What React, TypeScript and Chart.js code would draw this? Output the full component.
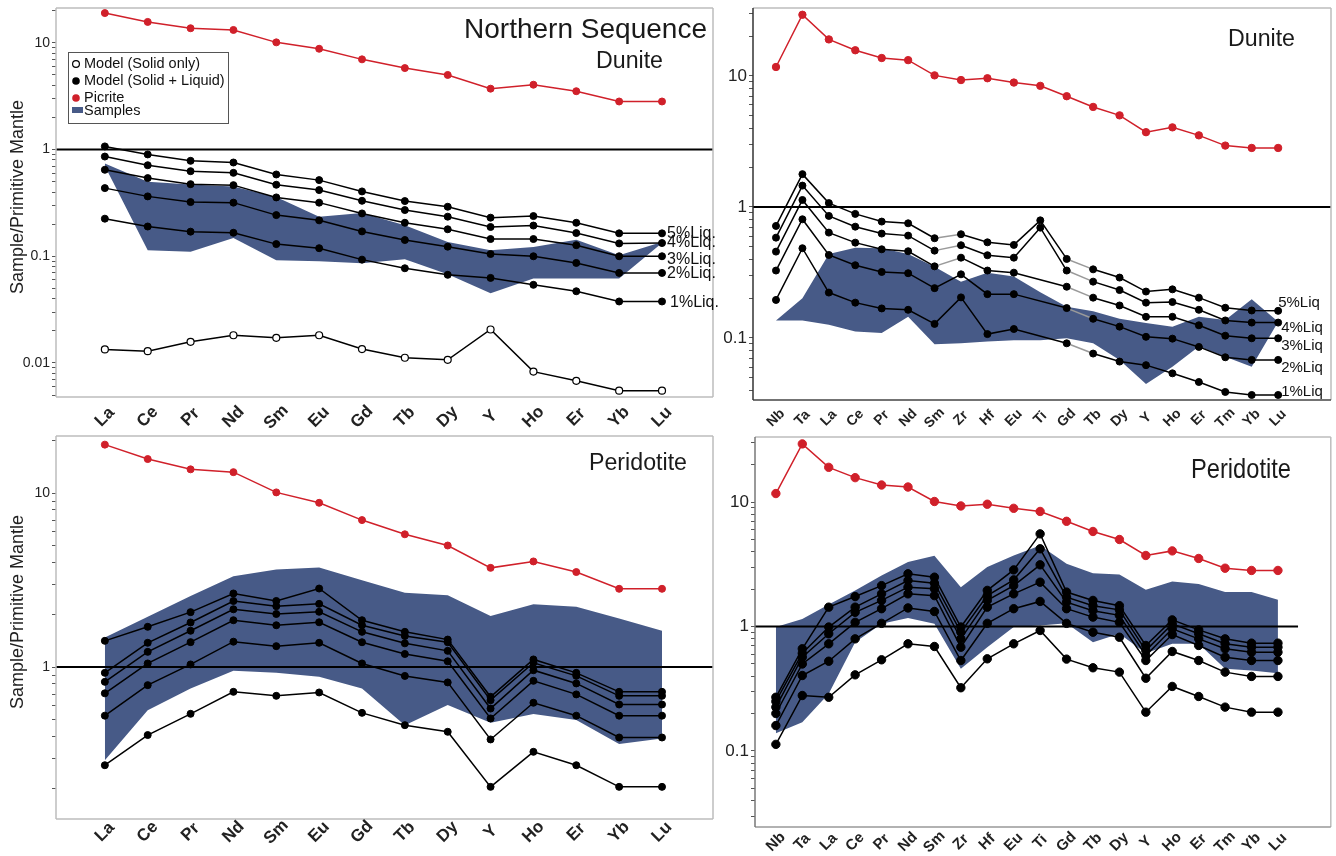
import React, { useEffect, useRef } from 'react';
import { Chart, registerables } from 'chart.js';

Chart.register(...registerables);

// ---------- categories ----------
const REE_CATS = ['La', 'Ce', 'Pr', 'Nd', 'Sm', 'Eu', 'Gd', 'Tb', 'Dy', 'Y', 'Ho', 'Er', 'Yb', 'Lu'];
const EXT_CATS = ['Nb', 'Ta', 'La', 'Ce', 'Pr', 'Nd', 'Sm', 'Zr', 'Hf', 'Eu', 'Ti', 'Gd', 'Tb', 'Dy', 'Y', 'Ho', 'Er', 'Tm', 'Yb', 'Lu'];

// ---------- picrite ----------
const picriteREE = [19.0, 15.7, 13.7, 13.2, 10.1, 8.8, 7.0, 5.8, 5.0, 3.72, 4.05, 3.52, 2.82, 2.82];
const picriteEXT = [11.7, 29.3, 19.0, 15.7, 13.7, 13.2, 10.1, 9.3, 9.6, 8.9, 8.4, 7.0, 5.8, 5.0, 3.72, 4.05, 3.52, 2.94, 2.82, 2.82];

// ---------- Panel 1: Dunite (REE) ----------
const dunREE5 = [1.07, 0.90, 0.784, 0.756, 0.584, 0.517, 0.405, 0.329, 0.291, 0.23, 0.238, 0.206, 0.164, 0.164];
const dunREE4 = [0.86, 0.713, 0.627, 0.605, 0.468, 0.417, 0.331, 0.271, 0.235, 0.188, 0.194, 0.165, 0.132, 0.133];
const dunREE3 = [0.646, 0.54, 0.474, 0.464, 0.356, 0.318, 0.252, 0.206, 0.179, 0.145, 0.145, 0.127, 0.10, 0.10];
const dunREE2 = [0.435, 0.364, 0.322, 0.318, 0.243, 0.217, 0.171, 0.142, 0.123, 0.105, 0.10, 0.0866, 0.0698, 0.0698];
const dunREE1 = [0.225, 0.19, 0.17, 0.166, 0.130, 0.119, 0.093, 0.0772, 0.067, 0.0627, 0.054, 0.047, 0.0377, 0.0377];
const dunSolidOnly = [0.0134, 0.0129, 0.0158, 0.0182, 0.0172, 0.0182, 0.0135, 0.0112, 0.0107, 0.0206, 0.0083, 0.0068, 0.0055, 0.0055];
const dunREEBandUpper = [0.74, 0.50, 0.47, 0.45, 0.36, 0.235, 0.255, 0.195, 0.136, 0.114, 0.122, 0.143, 0.102, 0.136];
const dunREEBandLower = [0.70, 0.114, 0.11, 0.148, 0.092, 0.09, 0.086, 0.094, 0.068, 0.045, 0.062, 0.062, 0.062, 0.133];

// ---------- Panel 2: Dunite (extended) ----------
const dunEXT5 = [0.716, 1.78, 1.07, 0.885, 0.773, 0.75, 0.577, 0.619, 0.537, 0.513, 0.79, 0.401, 0.334, 0.289, 0.226, 0.235, 0.203, 0.17, 0.162, 0.161];
const dunEXT4 = [0.583, 1.455, 0.854, 0.707, 0.626, 0.604, 0.464, 0.51, 0.428, 0.41, 0.695, 0.327, 0.269, 0.232, 0.186, 0.188, 0.164, 0.136, 0.131, 0.131];
const dunEXT3 = [0.456, 1.13, 0.637, 0.534, 0.475, 0.459, 0.352, 0.41, 0.327, 0.315, null, 0.246, 0.203, 0.177, 0.145, 0.145, 0.125, 0.104, 0.0994, 0.0994];
const dunEXT2 = [0.327, 0.805, 0.43, 0.359, 0.319, 0.312, 0.24, 0.306, 0.216, 0.216, null, 0.169, 0.14, 0.122, 0.102, 0.0988, 0.0854, 0.0712, 0.068, 0.068];
const dunEXT1 = [0.195, 0.484, 0.222, 0.186, 0.168, 0.164, 0.128, 0.204, 0.107, 0.117, null, 0.091, 0.076, 0.066, 0.062, 0.0537, 0.0461, 0.0387, 0.0367, 0.0367];
const dunEXTBandUpper = [0.136, 0.201, 0.438, 0.489, 0.484, 0.438, 0.35, 0.269, 0.315, 0.294, 0.223, 0.173, 0.16, 0.14, 0.13, 0.122, 0.145, 0.137, 0.197, 0.133];
const dunEXTBandLower = [0.136, 0.136, 0.126, 0.112, 0.109, 0.145, 0.0895, 0.091, 0.094, 0.096, 0.096, 0.0994, 0.091, 0.068, 0.0446, 0.0604, 0.0859, 0.072, 0.0604, 0.133];

// ---------- Panel 3: Peridotite (REE) ----------
const perREE6 = [1.416, 1.705, 2.07, 2.65, 2.40, 2.83, 1.86, 1.595, 1.44, 0.675, 1.107, 0.927, 0.721, 0.721];
const perREE5 = [0.927, 1.38, 1.806, 2.40, 2.24, 2.31, 1.74, 1.51, 1.39, 0.646, 1.06, 0.891, 0.684, 0.684];
const perREE4 = [0.823, 1.224, 1.618, 2.15, 2.02, 2.08, 1.595, 1.37, 1.24, 0.578, 0.96, 0.806, 0.61, 0.61];
const perREE3 = [0.707, 1.05, 1.392, 1.86, 1.74, 1.81, 1.39, 1.19, 1.08, 0.507, 0.834, 0.697, 0.526, 0.526];
const perREE2 = [0.526, 0.788, 1.036, 1.40, 1.32, 1.38, 1.05, 0.89, 0.817, 0.384, 0.624, 0.526, 0.394, 0.394];
const perREE1 = [0.273, 0.407, 0.539, 0.721, 0.684, 0.715, 0.546, 0.464, 0.425, 0.205, 0.326, 0.273, 0.205, 0.205];
const perREEBandUpper = [1.48, 1.95, 2.56, 3.33, 3.64, 3.74, 3.16, 2.68, 2.59, 1.97, 2.30, 2.22, 1.9, 1.62];
const perREEBandLower = [0.292, 0.566, 0.754, 0.953, 0.927, 0.88, 0.754, 0.464, 0.605, 0.479, 0.537, 0.496, 0.361, 0.389];

// ---------- Panel 4: Peridotite (extended) ----------
const perEXT6 = [0.27, 0.662, 1.43, 1.74, 2.13, 2.65, 2.49, 0.99, 1.95, 2.85, 5.55, 1.89, 1.62, 1.47, 0.704, 1.13, 0.94, 0.796, 0.735, 0.735];
const perEXT5 = [0.25, 0.61, 0.99, 1.43, 1.83, 2.34, 2.23, 0.9, 1.77, 2.37, 4.21, 1.72, 1.47, 1.36, 0.641, 1.05, 0.874, 0.726, 0.682, 0.682];
const perEXT4 = [0.225, 0.567, 0.874, 1.30, 1.62, 2.07, 2.01, 0.796, 1.62, 2.13, 3.13, 1.57, 1.34, 1.23, 0.585, 0.958, 0.796, 0.662, 0.622, 0.622];
const perEXT3 = [0.20, 0.50, 0.726, 1.08, 1.39, 1.83, 1.77, 0.682, 1.43, 1.83, 2.27, 1.39, 1.19, 1.08, 0.533, 0.862, 0.704, 0.567, 0.533, 0.533];
const perEXT2 = [0.16, 0.404, 0.526, 0.796, 1.06, 1.41, 1.32, 0.533, 1.06, 1.39, 1.59, 1.06, 0.9, 0.82, 0.384, 0.63, 0.533, 0.43, 0.397, 0.397];
const perEXT1 = [0.113, 0.279, 0.27, 0.409, 0.54, 0.726, 0.691, 0.322, 0.55, 0.726, 0.929, 0.547, 0.466, 0.43, 0.205, 0.33, 0.274, 0.225, 0.205, 0.205];
const perEXTBandUpper = [0.99, 1.15, 1.5, 1.95, 2.57, 3.29, 3.7, 2.07, 3.0, 3.72, 4.47, 3.19, 2.68, 2.62, 1.97, 2.3, 2.2, 1.89, 1.89, 1.64];
const perEXTBandLower = [0.139, 0.17, 0.288, 0.748, 1.05, 1.17, 1.05, 0.457, 0.682, 0.99, 1.02, 1.06, 0.748, 0.874, 0.61, 0.726, 0.726, 0.457, 0.443, 0.422];

const LIQ_LABELS_REE = ['5%Liq.', '4%Liq.', '3%Liq.', '2%Liq.', '1%Liq.'];
const LIQ_LABELS_EXT = ['5%Liq', '4%Liq', '3%Liq', '2%Liq', '1%Liq'];
const LEGEND_LABELS = ['Model (Solid only)', 'Model (Solid + Liquid)', 'Picrite', 'Samples'];

// ---------- styling ----------
const FONT = "'Liberation Sans', Arial, Helvetica, sans-serif";
const RED = '#d0202a';
const BAND = '#475a87';
const SEG_GRAY = '#9a9a9a';

const toXY = (vals: (number | null)[]) => vals.map((v, i) => ({ x: i, y: v }));
const isPow10 = (v: number) => v > 0 && Math.abs(Math.log10(v) - Math.round(Math.log10(v))) < 1e-6;
const fmt = (v: number) => (v >= 1 ? String(Math.round(v)) : String(+v.toPrecision(1)));

function logTicks(min: number, max: number) {
  const out: { value: number }[] = [];
  for (let e = Math.floor(Math.log10(min)); e <= Math.ceil(Math.log10(max)); e++) {
    for (let m = 1; m <= 9; m++) {
      const v = +(m * Math.pow(10, e)).toPrecision(6);
      if (v >= min && v <= max) out.push({ value: v });
    }
  }
  return out;
}

function modelDs(vals: (number | null)[], r: number, graySegStarts: number[] = []) {
  return {
    data: toXY(vals),
    borderColor: '#000',
    backgroundColor: '#000',
    borderWidth: 1.5,
    pointRadius: r,
    pointBorderWidth: 1,
    pointBorderColor: '#000',
    pointBackgroundColor: '#000',
    spanGaps: true,
    fill: false,
    tension: 0,
    segment: {
      borderColor: (c: any) => (graySegStarts.includes(c.p0DataIndex) ? SEG_GRAY : undefined),
    },
  };
}
function picriteDs(vals: number[], r: number) {
  return {
    data: toXY(vals),
    borderColor: RED,
    backgroundColor: RED,
    borderWidth: 1.5,
    pointRadius: r,
    pointBorderWidth: 1,
    pointBorderColor: RED,
    pointBackgroundColor: RED,
    fill: false,
    tension: 0,
  };
}
function solidDs(vals: number[], r: number) {
  return {
    data: toXY(vals),
    borderColor: '#000',
    backgroundColor: '#fff',
    borderWidth: 1.5,
    pointRadius: r,
    pointBorderWidth: 1.2,
    pointBorderColor: '#000',
    pointBackgroundColor: '#fff',
    fill: false,
    tension: 0,
  };
}
function bandDs(upper: number[], lower: number[]) {
  return [
    { data: toXY(upper), borderWidth: 0, borderColor: BAND, backgroundColor: BAND, pointRadius: 0, fill: '+1', tension: 0 },
    { data: toXY(lower), borderWidth: 0, borderColor: BAND, backgroundColor: BAND, pointRadius: 0, fill: false, tension: 0 },
  ];
}

function drawFitText(ctx: CanvasRenderingContext2D, text: string, xRight: number, baseline: number, size: number, targetW: number, family: string) {
  ctx.save();
  ctx.font = `${size}px ${family}`;
  const w = ctx.measureText(text).width;
  const sx = targetW / w;
  ctx.translate(xRight - targetW, baseline);
  ctx.scale(sx, 1);
  ctx.textAlign = 'left';
  ctx.textBaseline = 'alphabetic';
  ctx.fillStyle = '#1a1a1a';
  ctx.fillText(text, 0, 0);
  ctx.restore();
}

type PanelCfg = {
  left: number; top: number; w: number; h: number;
  plot: { l: number; t: number; r: number; b: number };
  cats: string[];
  xMin: number; xMax: number; yMin: number; yMax: number;
  yFont: number; xFont: number; xLabOff: number;
  datasets: any[];
  refEnd?: number;
  borders: { top: string; right: string; bottom: string; left: string; width: number };
  titles: { text: string; right: number; base: number; size: number; w: number; family?: string }[];
  yTitle?: { x: number; y: number };
  liq?: { labels: string[]; values: number[]; dx: number[]; dy: number[]; size: number };
  legend?: boolean;
};

function decorate(chart: any, cfg: PanelCfg) {
  const ctx: CanvasRenderingContext2D = chart.ctx;
  const a = chart.chartArea;
  const xs = chart.scales.x;
  const ys = chart.scales.y;
  const ox = cfg.left, oy = cfg.top;
  ctx.save();

  // reference line at 1
  const y1 = ys.getPixelForValue(1);
  const xEnd = cfg.refEnd != null ? xs.getPixelForValue(cfg.refEnd) : a.right;
  ctx.strokeStyle = '#000';
  ctx.lineWidth = 2;
  ctx.beginPath();
  ctx.moveTo(a.left, y1);
  ctx.lineTo(xEnd, y1);
  ctx.stroke();

  // frame
  const b = cfg.borders;
  ctx.lineWidth = b.width;
  const seg = (c: string, x1: number, y1_: number, x2: number, y2: number) => {
    ctx.strokeStyle = c;
    ctx.beginPath();
    ctx.moveTo(x1, y1_);
    ctx.lineTo(x2, y2);
    ctx.stroke();
  };
  seg(b.top, a.left, a.top, a.right, a.top);
  seg(b.right, a.right, a.top, a.right, a.bottom);
  seg(b.bottom, a.left, a.bottom, a.right, a.bottom);
  seg(b.left, a.left, a.top, a.left, a.bottom);

  // x labels (rotated)
  ctx.fillStyle = '#222';
  ctx.font = `bold ${cfg.xFont}px ${FONT}`;
  ctx.textAlign = 'center';
  ctx.textBaseline = 'middle';
  cfg.cats.forEach((c, i) => {
    const px = xs.getPixelForValue(i);
    ctx.save();
    ctx.translate(px, a.bottom + cfg.xLabOff);
    ctx.rotate(-Math.PI / 4);
    ctx.fillText(c, 0, 0);
    ctx.restore();
  });

  // y title
  if (cfg.yTitle) {
    ctx.save();
    ctx.translate(cfg.yTitle.x - ox, cfg.yTitle.y - oy);
    ctx.rotate(-Math.PI / 2);
    ctx.font = `18px ${FONT}`;
    ctx.fillStyle = '#222';
    ctx.textAlign = 'center';
    ctx.textBaseline = 'middle';
    ctx.fillText('Sample/Primitive Mantle', 0, 0);
    ctx.restore();
  }

  // titles
  cfg.titles.forEach((t) => drawFitText(ctx, t.text, t.right - ox, t.base - oy, t.size, t.w, t.family || FONT));

  // liquid labels
  if (cfg.liq) {
    const L = cfg.liq;
    const lastIdx = cfg.cats.length - 1;
    const px = xs.getPixelForValue(lastIdx);
    ctx.font = `${L.size}px ${FONT}`;
    ctx.fillStyle = '#111';
    ctx.textAlign = 'left';
    ctx.textBaseline = 'middle';
    L.labels.forEach((lab, i) => {
      const py = ys.getPixelForValue(L.values[i]);
      ctx.fillText(lab, px + L.dx[i], py + L.dy[i]);
    });
  }

  // legend
  if (cfg.legend) {
    const lx = 68.5 - ox, ly = 52.5 - oy;
    ctx.fillStyle = '#fff';
    ctx.fillRect(lx, ly, 160, 71);
    ctx.strokeStyle = '#555';
    ctx.lineWidth = 1;
    ctx.strokeRect(lx, ly, 160, 71);
    const rows = [64, 81, 98, 111];
    ctx.font = `14.5px ${FONT}`;
    ctx.textAlign = 'left';
    ctx.textBaseline = 'middle';
    ctx.beginPath();
    ctx.arc(76, rows[0] - oy, 3.4, 0, Math.PI * 2);
    ctx.fillStyle = '#fff';
    ctx.fill();
    ctx.strokeStyle = '#000';
    ctx.lineWidth = 1.2;
    ctx.stroke();
    ctx.beginPath();
    ctx.arc(76, rows[1] - oy, 3.8, 0, Math.PI * 2);
    ctx.fillStyle = '#000';
    ctx.fill();
    ctx.beginPath();
    ctx.arc(76, rows[2] - oy, 3.8, 0, Math.PI * 2);
    ctx.fillStyle = RED;
    ctx.fill();
    ctx.fillStyle = BAND;
    ctx.fillRect(72, rows[3] - 4 - oy, 11, 6);
    ctx.fillStyle = '#111';
    LEGEND_LABELS.forEach((t, i) => ctx.fillText(t, 84, rows[i] - oy));
  }

  ctx.restore();
}

function Panel({ cfg }: { cfg: PanelCfg }) {
  const ref = useRef<HTMLCanvasElement | null>(null);
  useEffect(() => {
    if (!ref.current) return;
    const axisW = cfg.plot.l - cfg.left;
    const chart = new Chart(ref.current, {
      type: 'line',
      data: { datasets: cfg.datasets },
      options: {
        animation: false,
        responsive: false,
        devicePixelRatio: 1,
        events: [],
        layout: {
          padding: {
            left: 0,
            top: cfg.plot.t - cfg.top,
            right: cfg.left + cfg.w - cfg.plot.r,
            bottom: cfg.top + cfg.h - cfg.plot.b,
          },
        },
        scales: {
          x: { type: 'linear', min: cfg.xMin, max: cfg.xMax, display: false },
          y: {
            type: 'logarithmic',
            min: cfg.yMin,
            max: cfg.yMax,
            afterBuildTicks: (s: any) => { s.ticks = logTicks(cfg.yMin, cfg.yMax); },
            afterFit: (s: any) => { s.width = axisW; },
            border: { display: false },
            grid: { drawOnChartArea: false, drawTicks: true, tickLength: 4, tickColor: '#555', tickWidth: 1 },
            ticks: {
              autoSkip: false,
              padding: 2,
              color: '#222',
              font: (c: any) => ({ family: FONT, size: c.tick && isPow10(c.tick.value) ? cfg.yFont : 1 }),
              callback: (v: any) => (isPow10(Number(v)) ? fmt(Number(v)) : ''),
            },
          },
        },
        plugins: {
          legend: { display: false },
          tooltip: { enabled: false },
          title: { display: false },
        },
      } as any,
      plugins: [{ id: 'decor', afterDatasetsDraw: (chart: any) => decorate(chart, cfg) }],
    });
    return () => chart.destroy();
  }, []);
  return (
    <canvas
      ref={ref}
      width={cfg.w}
      height={cfg.h}
      style={{ position: 'absolute', left: cfg.left, top: cfg.top, width: cfg.w, height: cfg.h }}
    />
  );
}

const LIGHT = '#bdbdbd';

const panels: PanelCfg[] = [
  {
    left: 0, top: 0, w: 720, h: 430,
    plot: { l: 56, t: 8, r: 713, b: 397 },
    cats: REE_CATS, xMin: -1.14, xMax: 14.19, yMin: 0.0048, yMax: 21.2,
    yFont: 14, xFont: 17, xLabOff: 20,
    datasets: [
      modelDs(dunREE5, 3.5), modelDs(dunREE4, 3.5), modelDs(dunREE3, 3.5), modelDs(dunREE2, 3.5), modelDs(dunREE1, 3.5),
      solidDs(dunSolidOnly, 3.5),
      picriteDs(picriteREE, 3.5),
      ...bandDs(dunREEBandUpper, dunREEBandLower),
    ],
    borders: { top: LIGHT, right: LIGHT, bottom: LIGHT, left: LIGHT, width: 1.5 },
    titles: [
      { text: 'Northern Sequence', right: 707, base: 38, size: 28, w: 243 },
      { text: 'Dunite', right: 663, base: 68, size: 23, w: 67 },
    ],
    yTitle: { x: 18, y: 197 },
    liq: {
      labels: LIQ_LABELS_REE,
      values: [dunREE5[13], dunREE4[13], dunREE3[13], dunREE2[13], dunREE1[13]],
      dx: [5, 5, 5, 5, 8], dy: [0, 0, 3, 1, 1], size: 16,
    },
    legend: true,
  },
  {
    left: 720, top: 0, w: 616, h: 430,
    plot: { l: 753, t: 8, r: 1332, b: 400 },
    cats: EXT_CATS, xMin: -0.87, xMax: 21.0, yMin: 0.0336, yMax: 33,
    yFont: 17, xFont: 14, xLabOff: 18,
    datasets: [
      modelDs(dunEXT5, 3.5, [6, 11]), modelDs(dunEXT4, 3.5, [6, 11]), modelDs(dunEXT3, 3.5, [6, 11]),
      modelDs(dunEXT2, 3.5, [11]), modelDs(dunEXT1, 3.5, [11]),
      picriteDs(picriteEXT, 3.7),
      ...bandDs(dunEXTBandUpper, dunEXTBandLower),
    ],
    borders: { top: LIGHT, right: LIGHT, bottom: '#444', left: '#333', width: 1.5 },
    titles: [{ text: 'Dunite', right: 1295, base: 46, size: 23, w: 67 }],
    liq: {
      labels: LIQ_LABELS_EXT,
      values: [dunEXT5[19], dunEXT4[19], dunEXT3[19], dunEXT2[19], dunEXT1[19]] as number[],
      dx: [0, 3, 3, 3, 3], dy: [-8, 5, 8, 8, -3], size: 15,
    },
  },
  {
    left: 0, top: 430, w: 720, h: 426,
    plot: { l: 56, t: 436, r: 713, b: 819 },
    cats: REE_CATS, xMin: -1.14, xMax: 14.19, yMin: 0.134, yMax: 21.3,
    yFont: 14, xFont: 17, xLabOff: 13,
    datasets: [
      modelDs(perREE6, 3.5), modelDs(perREE5, 3.5), modelDs(perREE4, 3.5), modelDs(perREE3, 3.5), modelDs(perREE2, 3.5), modelDs(perREE1, 3.5),
      picriteDs(picriteREE, 3.5),
      ...bandDs(perREEBandUpper, perREEBandLower),
    ],
    borders: { top: LIGHT, right: LIGHT, bottom: LIGHT, left: LIGHT, width: 1.5 },
    titles: [{ text: 'Peridotite', right: 687, base: 470, size: 23, w: 98 }],
    yTitle: { x: 18, y: 612 },
  },
  {
    left: 720, top: 430, w: 616, h: 426,
    plot: { l: 755, t: 437, r: 1332, b: 827 },
    cats: EXT_CATS, xMin: -0.79, xMax: 21.0, yMin: 0.0245, yMax: 33.3,
    yFont: 17, xFont: 15, xLabOff: 15,
    refEnd: 19.76,
    datasets: [
      modelDs(perEXT6, 4.2), modelDs(perEXT5, 4.2), modelDs(perEXT4, 4.2), modelDs(perEXT3, 4.2), modelDs(perEXT2, 4.2), modelDs(perEXT1, 4.2),
      picriteDs(picriteEXT, 4.2),
      ...bandDs(perEXTBandUpper, perEXTBandLower),
    ],
    borders: { top: LIGHT, right: LIGHT, bottom: '#999', left: '#777', width: 1.5 },
    titles: [{ text: 'Peridotite', right: 1291, base: 478, size: 28, w: 100 }],
  },
];

export default function App() {
  return (
    <div style={{ position: 'absolute', left: 0, top: 0, width: 1336, height: 856, background: '#fff', overflow: 'hidden' }}>
      {panels.map((p, i) => (
        <Panel key={i} cfg={p} />
      ))}
    </div>
  );
}
